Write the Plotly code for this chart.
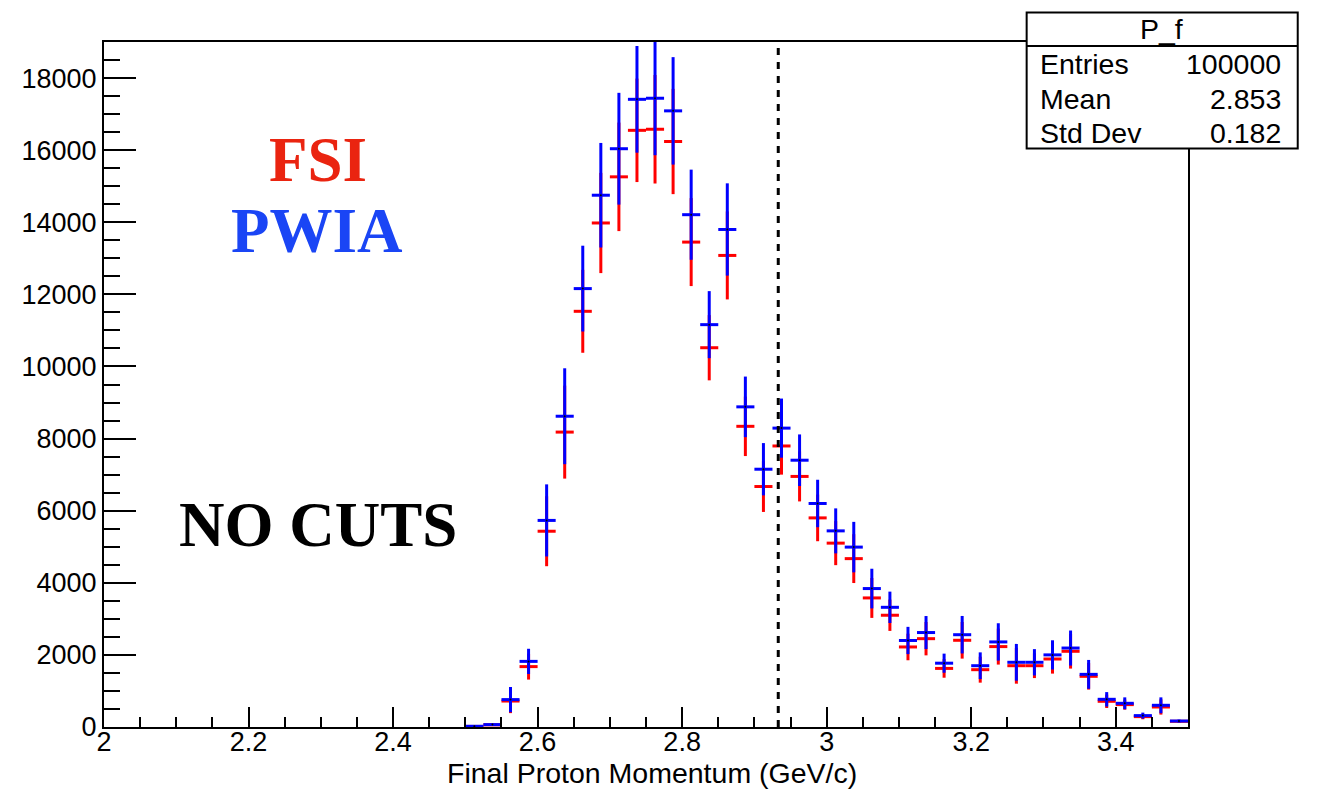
import plotly.graph_objects as go

# Bin centres of the P_f histogram (bin width 0.025 GeV/c)
bin_centers = [2.5125, 2.5375, 2.5625, 2.5875, 2.6125, 2.6375, 2.6625, 2.6875,
               2.7125, 2.7375, 2.7625, 2.7875, 2.8125, 2.8375, 2.8625, 2.8875,
               2.9125, 2.9375, 2.9625, 2.9875, 3.0125, 3.0375, 3.0625, 3.0875,
               3.1125, 3.1375, 3.1625, 3.1875, 3.2125, 3.2375, 3.2625, 3.2875,
               3.3125, 3.3375, 3.3625, 3.3875, 3.4125, 3.4375, 3.4625, 3.4875]
bin_half_width = 0.0125

# PWIA counts and errors
pwia_counts = [20, 66, 760, 1820, 5730, 8620, 12160, 14750,
               16040, 17410, 17440, 17090, 14210, 11160, 13800, 8880,
               7150, 8290, 7400, 6200, 5440, 4990, 3840, 3320,
               2400, 2620, 1770, 2560, 1700, 2360, 1795, 1795,
               2000, 2190, 1460, 768, 657, 316, 602, 166]
pwia_errors = [15, 30, 350, 350, 1000, 1330, 1190, 1450,
               1550, 1480, 1580, 1490, 1250, 930, 1280, 840,
               725, 820, 715, 658, 624, 700, 550, 435,
               378, 458, 265, 520, 370, 518, 510, 365,
               405, 486, 400, 200, 165, 83, 220, 40]

# FSI counts and errors
fsi_counts = [15, 60, 720, 1675, 5430, 8180, 11530, 13980,
              15260, 16550, 16580, 16240, 13450, 10520, 13080, 8340,
              6670, 7795, 6950, 5800, 5100, 4670, 3580, 3100,
              2220, 2450, 1625, 2405, 1590, 2230, 1700, 1700,
              1886, 2100, 1406, 713, 621, 288, 555, 158]
fsi_errors = [12, 28, 335, 360, 970, 1290, 1150, 1390,
              1505, 1435, 1505, 1460, 1220, 905, 1220, 825,
              705, 795, 693, 647, 611, 677, 554, 435,
              369, 463, 258, 508, 360, 499, 498, 343,
              405, 480, 369, 186, 140, 74, 211, 38]

# Stats box contents
stats_title = "P_f"
stats_labels = ["Entries", "Mean", "Std Dev"]
stats_values = ["100000", "2.853", "0.182"]

cut_position = 2.933

W, H = 1327, 789
L, R, T, B = 104.3, 1188.0, 41.7, 726.7


def px(xp):
    return (xp - L) / (R - L)


def py(yp):
    return (B - yp) / (B - T)


def hist_trace(counts, errors, color, name):
    return go.Scatter(
        x=bin_centers, y=counts, mode="markers", name=name,
        marker=dict(color="black", size=2),
        error_x=dict(type="constant", value=bin_half_width, width=0,
                     thickness=3, color=color),
        error_y=dict(type="data", array=errors, width=0,
                     thickness=3, color=color),
        showlegend=False,
    )


fig = go.Figure()
fig.add_trace(hist_trace(fsi_counts, fsi_errors, "#ff0000", "FSI"))
fig.add_trace(hist_trace(pwia_counts, pwia_errors, "#0000ff", "PWIA"))

sans = "Liberation Sans, Arial, sans-serif"
axis_font = dict(family=sans, size=27, color="black")
stats_font = dict(family=sans, size=28.5, color="black")

fig.update_layout(
    width=W, height=H,
    margin=dict(l=L, r=W - R, t=T, b=H - B),
    paper_bgcolor="white", plot_bgcolor="white",
    xaxis=dict(
        range=[2.0, 3.5], tick0=2.0, dtick=0.2,
        ticks="inside", ticklen=20, tickwidth=1.5, tickcolor="black",
        minor=dict(dtick=0.05, ticks="inside", ticklen=10, tickwidth=1.5,
                   tickcolor="black", showgrid=False),
        showgrid=False, zeroline=False,
        showline=True, linecolor="black", linewidth=2, mirror=True,
        tickfont=axis_font, tickformat="~g", ticklabelstandoff=-10,
    ),
    yaxis=dict(
        range=[0, 19000], tick0=0, dtick=2000,
        ticks="inside", ticklen=32, tickwidth=1.5, tickcolor="black",
        minor=dict(dtick=500, ticks="inside", ticklen=16, tickwidth=1.5,
                   tickcolor="black", showgrid=False),
        showgrid=False, zeroline=False,
        showline=True, linecolor="black", linewidth=2, mirror=True,
        tickfont=axis_font, tickformat="d",
    ),
    font=axis_font,
)

# Dashed cut line
fig.add_shape(type="line", xref="x", yref="y", x0=cut_position, x1=cut_position,
              y0=0, y1=19000, line=dict(color="black", width=3, dash="7px,7px"))

# Stats box
fig.add_shape(type="rect", xref="paper", yref="paper",
              x0=px(1026.7), x1=px(1297.7), y0=py(148.3), y1=py(12.3),
              fillcolor="white", line=dict(color="black", width=2), layer="above")
fig.add_shape(type="line", xref="paper", yref="paper",
              x0=px(1026.7), x1=px(1297.7), y0=py(45.7), y1=py(45.7),
              line=dict(color="black", width=2), layer="above")

annotations = [
    dict(text=stats_title, x=px(1162), y=py(29), xanchor="center", yanchor="middle",
         font=stats_font),
]
row_y = [63.5, 98.3, 132.5]
for lab, val, yy in zip(stats_labels, stats_values, row_y):
    annotations.append(dict(text=lab, x=px(1038), y=py(yy), xanchor="left",
                            yanchor="middle", font=stats_font))
    annotations.append(dict(text=val, x=px(1283), y=py(yy), xanchor="right",
                            yanchor="middle", font=stats_font))

serif = "Liberation Serif, Times New Roman, serif"
annotations += [
    dict(text="<b>FSI</b>", x=px(318), y=py(159.7), xanchor="center", yanchor="middle",
         font=dict(family=serif, size=63, color="#EA2410")),
    dict(text="<b>PWIA</b>", x=px(317.5), y=py(230.5), xanchor="center", yanchor="middle",
         font=dict(family=serif, size=63, color="#1A45F5")),
    dict(text="<b>NO CUTS</b>", x=px(318), y=py(524.5), xanchor="center", yanchor="middle",
         font=dict(family=serif, size=63, color="black")),
    dict(text="Final Proton Momentum (GeV/c)", x=px(651.7), y=py(772.5),
         xanchor="center", yanchor="middle", font=dict(family=sans, size=28.5, color="black")),
]
for a in annotations:
    a.update(xref="paper", yref="paper", showarrow=False)
fig.update_layout(annotations=annotations)

fig.write_html("out.html")
